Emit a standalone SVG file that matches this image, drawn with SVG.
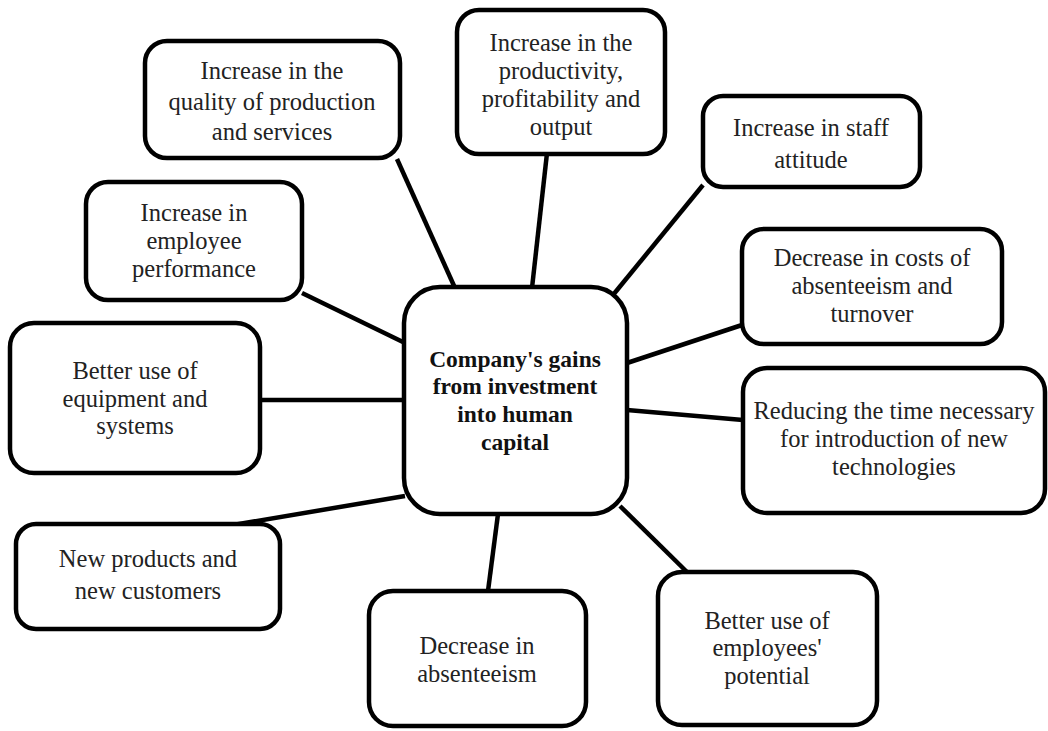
<svg xmlns="http://www.w3.org/2000/svg" width="1048" height="731" viewBox="0 0 1048 731">
<style>
.box{fill:#fff;stroke:#000;stroke-width:4.5}
.t{font-family:"Liberation Serif","Times New Roman",serif;font-size:24.5px;fill:#222;text-anchor:middle}
.b{font-weight:bold;font-size:23.5px;fill:#111}
.c line{stroke:#000;stroke-width:4.5}
</style>
<rect width="1048" height="731" fill="#fff"/>
<g class="c" id="connectors">
<line x1="397" y1="159" x2="455" y2="288"/>
<line x1="547" y1="153" x2="532" y2="288"/>
<line x1="703" y1="185" x2="613" y2="295"/>
<line x1="302" y1="293" x2="405" y2="343"/>
<line x1="742" y1="325" x2="627" y2="363"/>
<line x1="260" y1="400" x2="405" y2="400"/>
<line x1="743" y1="420" x2="627" y2="410"/>
<line x1="233" y1="525" x2="405" y2="496"/>
<line x1="498" y1="514" x2="488" y2="591"/>
<line x1="620" y1="506" x2="688" y2="573"/>
</g>
<g id="quality"><rect class="box" x="145" y="41" width="255" height="117" rx="22"/>
<text class="t" x="272" y="79">Increase in the</text><text class="t" x="272" y="110">quality of production</text><text class="t" x="272" y="140">and services</text></g>
<g id="productivity"><rect class="box" x="457" y="10" width="208" height="144" rx="22"/>
<text class="t" x="561" y="51">Increase in the</text><text class="t" x="561" y="79">productivity,</text><text class="t" x="561" y="107">profitability and</text><text class="t" x="561" y="135">output</text></g>
<g id="staff"><rect class="box" x="703" y="96" width="217" height="91" rx="20"/>
<text class="t" x="811" y="136">Increase in staff</text><text class="t" x="811" y="168">attitude</text></g>
<g id="performance"><rect class="box" x="86" y="182" width="216" height="118" rx="22"/>
<text class="t" x="194" y="221">Increase in</text><text class="t" x="194" y="249">employee</text><text class="t" x="194" y="277">performance</text></g>
<g id="costs"><rect class="box" x="742" y="229" width="260" height="115" rx="22"/>
<text class="t" x="872" y="266">Decrease in costs of</text><text class="t" x="872" y="294">absenteeism and</text><text class="t" x="872" y="322">turnover</text></g>
<g id="center"><rect class="box" x="404" y="287" width="223" height="227" rx="36"/>
<text class="t b" x="515" y="367">Company's gains</text><text class="t b" x="515" y="394">from investment</text><text class="t b" x="515" y="422">into human</text><text class="t b" x="515" y="450">capital</text></g>
<g id="equipment"><rect class="box" x="10" y="323" width="250" height="150" rx="24"/>
<text class="t" x="135" y="379">Better use of</text><text class="t" x="135" y="407">equipment and</text><text class="t" x="135" y="434">systems</text></g>
<g id="reducing"><rect class="box" x="743" y="368" width="302" height="145" rx="24"/>
<text class="t" x="894" y="419">Reducing the time necessary</text><text class="t" x="894" y="447">for introduction of new</text><text class="t" x="894" y="475">technologies</text></g>
<g id="products"><rect class="box" x="16" y="524" width="264" height="105" rx="20"/>
<text class="t" x="148" y="567">New products and</text><text class="t" x="148" y="599">new customers</text></g>
<g id="absenteeism"><rect class="box" x="369" y="591" width="217" height="135" rx="24"/>
<text class="t" x="477" y="654">Decrease in</text><text class="t" x="477" y="682">absenteeism</text></g>
<g id="potential"><rect class="box" x="658" y="572" width="219" height="153" rx="24"/>
<text class="t" x="767" y="629">Better use of</text><text class="t" x="767" y="656">employees'</text><text class="t" x="767" y="684">potential</text></g>
</svg>
